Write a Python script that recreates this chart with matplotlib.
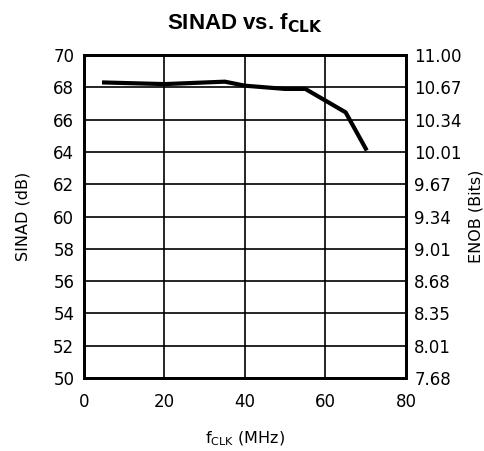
import matplotlib
matplotlib.use("Agg")
import matplotlib.pyplot as plt
import numpy as np

fclk = [5, 20, 35, 40, 50, 55, 65, 70]
sinad = [68.3, 68.2, 68.35, 68.1, 67.9, 67.9, 66.45, 64.2]
left_ticks = [50, 52, 54, 56, 58, 60, 62, 64, 66, 68, 70]
enob_labels = ['7.68', '8.01', '8.35', '8.68', '9.01', '9.34', '9.67',
               '10.01', '10.34', '10.67', '11.00']
x_ticks = [0, 20, 40, 60, 80]

plt.rcParams['font.family'] = ['DejaVu Sans']

fig = plt.figure(figsize=(4.85, 4.51), dpi=100)
ax = fig.add_axes([0.1732, 0.1619, 0.6639, 0.7161])

ax.plot(fclk, sinad, color='black', linewidth=3, solid_joinstyle='miter')
ax.set_xlim(0, 80)
ax.set_ylim(50, 70)
ax.set_xticks(x_ticks)
ax.set_yticks(left_ticks)
ax.grid(True, color='black', linewidth=1.2)
for s in ax.spines.values():
    s.set_linewidth(2)
ax.tick_params(axis='y', length=0, labelsize=12, pad=7)
ax.tick_params(axis='x', length=0, labelsize=12, pad=11)

ax2 = ax.twinx()
ax2.set_ylim(50, 70)
ax2.set_yticks(left_ticks)
ax2.set_yticklabels(enob_labels)
ax2.tick_params(length=0, labelsize=12, pad=6)
for s in ax2.spines.values():
    s.set_linewidth(2)

ax.set_ylabel('SINAD (dB)', fontsize=11.5, labelpad=16)
ax2.set_ylabel('ENOB (Bits)', fontsize=11.5, labelpad=5)
ax.set_xlabel(r'f$_{\mathrm{CLK}}$ (MHz)', fontsize=11.5, labelpad=13)
fig.text(0.505, 0.948, r'SINAD vs. f$_{\mathbf{CLK}}$', ha='center', va='center',
         fontsize=16, fontweight='bold', family='Liberation Sans')

fig.savefig('out.png', dpi=100)
